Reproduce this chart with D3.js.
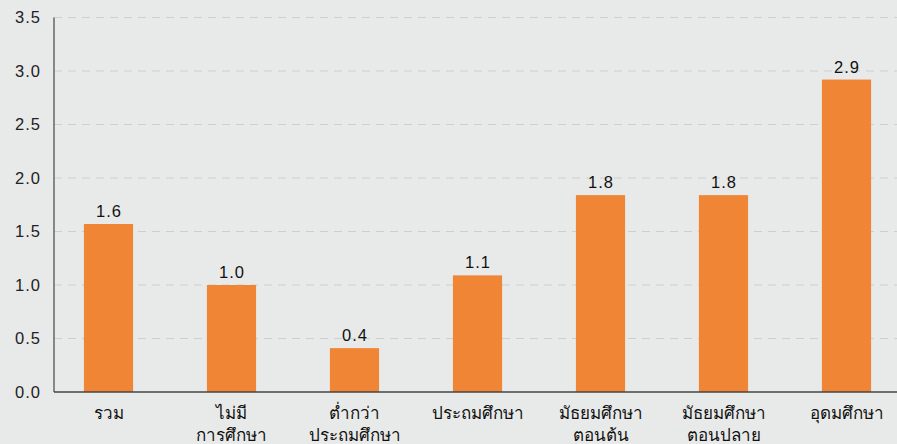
<!DOCTYPE html>
<html>
<head>
<meta charset="utf-8">
<script src="https://cdn.jsdelivr.net/npm/d3@7"></script>
<style>
  body { margin: 0; background: #e8eae9; }
  svg { display: block; font-family: "Liberation Sans", Arial, sans-serif; }
</style>
</head>
<body>
<div id="chart"></div>
<script>
var categories = [
  ['รวม'],
  ['ไม่มี', 'การศึกษา'],
  ['ต่ำกว่า', 'ประถมศึกษา'],
  ['ประถมศึกษา'],
  ['มัธยมศึกษา', 'ตอนต้น'],
  ['มัธยมศึกษา', 'ตอนปลาย'],
  ['อุดมศึกษา']
];
var values = [1.57, 1.0, 0.41, 1.09, 1.84, 1.84, 2.92];
var yTicks = [0, 0.5, 1.0, 1.5, 2.0, 2.5, 3.0, 3.5];

var width = 897, height = 444;
var plotLeft = 54, plotTop = 17.5, plotBottom = 392;

var svg = d3.select('#chart').append('svg')
  .attr('width', width)
  .attr('height', height);

svg.append('rect').attr('width', width).attr('height', height).attr('fill', '#e8eae9');

var x = d3.scaleBand()
  .domain(d3.range(categories.length))
  .range([47, 908])
  .paddingInner(0.6)
  .paddingOuter(0.3);

var y = d3.scaleLinear().domain([0, 3.5]).range([plotBottom, plotTop]);

// grid
svg.append('g').selectAll('line').data(yTicks.slice(1)).enter().append('line')
  .attr('x1', plotLeft).attr('x2', width)
  .attr('y1', function(d){ return y(d); })
  .attr('y2', function(d){ return y(d); })
  .attr('stroke', '#cdcfce')
  .attr('stroke-width', 1.2)
  .attr('stroke-dasharray', '8,6');

// y tick labels
svg.append('g').selectAll('text').data(yTicks).enter().append('text')
  .attr('x', 41)
  .attr('y', function(d){ return y(d); })
  .attr('dy', '0.35em')
  .attr('text-anchor', 'end')
  .attr('font-size', 16.5)
  .attr('letter-spacing', 1)
  .attr('fill', '#222')
  .text(function(d){ return d.toFixed(1); });

// bars
svg.append('g').selectAll('rect').data(values).enter().append('rect')
  .attr('x', function(d, i){ return x(i); })
  .attr('width', x.bandwidth())
  .attr('y', function(d){ return y(d); })
  .attr('height', function(d){ return y(0) - y(d); })
  .attr('fill', '#f08536');

// value labels
svg.append('g').selectAll('text').data(values).enter().append('text')
  .attr('x', function(d, i){ return x(i) + x.bandwidth() / 2 + 0.5; })
  .attr('y', function(d){ return y(d) - 7; })
  .attr('text-anchor', 'middle')
  .attr('font-size', 16.5)
  .attr('letter-spacing', 1)
  .attr('fill', '#111')
  .text(function(d){ return d.toFixed(1); });

// axes lines
svg.append('line').attr('x1', plotLeft).attr('x2', plotLeft).attr('y1', plotTop).attr('y2', plotBottom)
  .attr('stroke', '#666').attr('stroke-width', 1.5);
svg.append('line').attr('x1', plotLeft).attr('x2', width).attr('y1', plotBottom).attr('y2', plotBottom)
  .attr('stroke', '#444').attr('stroke-width', 1.5);

// category labels
var cat = svg.append('g').selectAll('text').data(categories).enter().append('text')
  .attr('x', function(d, i){ return x(i) + x.bandwidth() / 2; })
  .attr('y', 419)
  .attr('text-anchor', 'middle')
  .attr('font-size', 17)
  .attr('fill', '#111');
cat.selectAll('tspan').data(function(d){ return d; }).enter().append('tspan')
  .attr('x', function(){ return this.parentNode.getAttribute('x'); })
  .attr('dy', function(d, i){ return i === 0 ? 0 : 22; })
  .text(function(d){ return d; });
</script>
</body>
</html>
